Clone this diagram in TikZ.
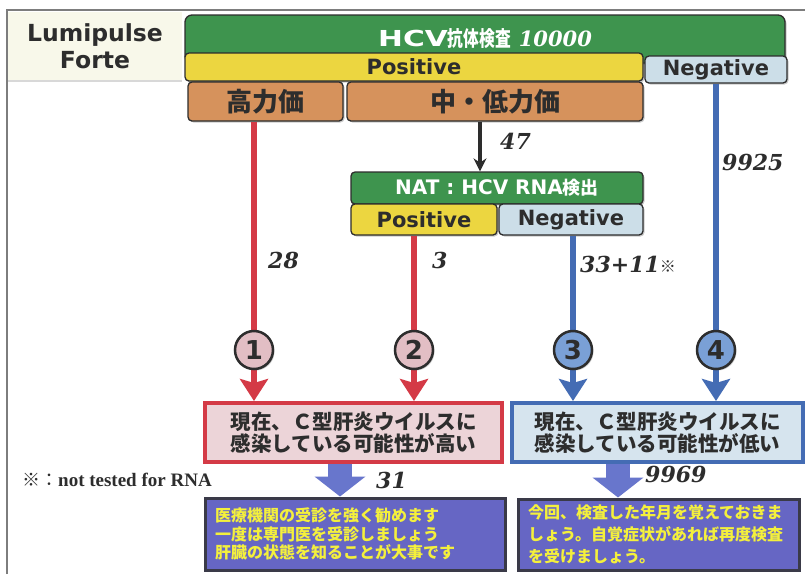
\documentclass[tikz,border=0pt]{standalone}
\usepackage{fontspec}
\setmainfont{Liberation Serif}
\newfontfamily\lat{DejaVu Sans}
\newfontfamily\jp{Noto Sans CJK JP}
\newfontfamily\jpcond{Noto Sans CJK JP}[FakeStretch=0.75]
\newfontfamily\hcvfont{DejaVu Sans}[FakeStretch=1.35]
\newfontfamily\numfont{DejaVu Serif}
\usetikzlibrary{arrows.meta,shadows}
\definecolor{hdrgreen}{RGB}{62,148,78}
\definecolor{posyellow}{RGB}{236,214,64}
\definecolor{negblue}{RGB}{204,222,232}
\definecolor{titer}{RGB}{214,146,92}
\definecolor{redline}{RGB}{212,58,70}
\definecolor{blueline}{RGB}{68,108,180}
\definecolor{pinkfill}{RGB}{236,212,216}
\definecolor{lbluefill}{RGB}{214,228,238}
\definecolor{pinkcirc}{RGB}{226,190,196}
\definecolor{bluecirc}{RGB}{122,160,214}
\definecolor{fatarrow}{RGB}{104,118,204}
\definecolor{advfill}{RGB}{102,102,196}
\definecolor{advedge}{RGB}{58,58,72}
\definecolor{advtext}{RGB}{244,240,60}
\definecolor{edge}{RGB}{45,45,45}
\definecolor{creamfill}{RGB}{248,248,234}
\definecolor{framegray}{RGB}{125,125,125}
\begin{document}
\begin{tikzpicture}[x=1pt,y=-1pt,
  softshadow/.style={drop shadow={shadow xshift=1.5pt,shadow yshift=-1.5pt,opacity=0.35,fill=black!60}},
  wh/.style 2 args={minimum width=#1pt,minimum height=#2pt},
  box/.style={draw=edge,line width=1.3pt,rounded corners=4pt,inner sep=0pt,softshadow,text=edge},
  labfont/.style={font={\fontsize{21}{23}\selectfont\lat\bfseries}},
  titfont/.style={font={\fontsize{26}{28}\selectfont\jp\bfseries}},
  verdict/.style={line width=4pt,inner sep=0pt,align=center,softshadow,text=edge,
    font={\fontsize{20.5}{22}\selectfont\jp\bfseries}},
  advice/.style={draw=advedge,line width=3pt,fill=advfill,inner xsep=10pt,inner ysep=0pt,
    align=left,text=advtext,softshadow},
  numlbl/.style={anchor=west,inner sep=0pt,text=edge,font={\fontsize{22}{24}\selectfont\numfont\bfseries\itshape}},
  numcirc/.style={circle,draw=edge,line width=2.5pt,minimum size=38pt,inner sep=0pt,softshadow,
    text=edge,font={\fontsize{26}{28}\selectfont\lat\bfseries}},
  redconn/.style={draw=redline,line width=6.5pt,-{Stealth[width=28pt,length=22pt,inset=4pt]}},
  blueconn/.style={draw=blueline,line width=6.5pt,-{Stealth[width=28pt,length=22pt,inset=4pt]}},
  blackconn/.style={draw=edge,line width=3.4pt,-{Stealth[width=13pt,length=13pt]}},
  fatconn/.style={draw=fatarrow,line width=24pt,-{Triangle[width=50pt,length=20pt]}}]
\useasboundingbox (0,0) rectangle (805,574);
\fill[white] (0,0) rectangle (805,574);
\draw[framegray,line width=1.5pt] (7,574) -- (7,10) -- (805,10);

% Lumipulse label
\node[fill=creamfill,wh={174}{68},inner sep=0pt,align=center,text=edge,
  drop shadow={shadow xshift=0pt,shadow yshift=-2pt,opacity=0.3,fill=black!50},
  font={\fontsize{23.5}{27}\selectfont\lat\bfseries}] (lumi) at (95,46) {Lumipulse\\Forte};

% top test
\node[box,fill=hdrgreen,wh={600}{48},rounded corners=7pt,text=white] (hcv) at (485,39)
  {{\fontsize{22}{24}\selectfont\hcvfont\bfseries HCV}{\fontsize{21}{24}\selectfont\jpcond\bfseries 抗体検査}\hspace{8pt}{\fontsize{21}{24}\selectfont\numfont\bfseries\itshape 10000}};
\node[box,fill=posyellow,wh={458}{28},labfont] (pos) at (414,67) {Positive};
\node[box,fill=negblue,wh={142}{27},labfont] (neg) at (716,69.5) {Negative};
\node[box,fill=titer,wh={155}{39},titfont] (hi) at (265.5,101.5) {高力価};
\node[box,fill=titer,wh={296}{39},titfont] (mid) at (495,101.5) {中・低力価};

% NAT
\node[box,fill=hdrgreen,wh={292}{32},text=white] (nat) at (497,188)
  {{\fontsize{20}{22}\selectfont\lat\bfseries NAT : HCV RNA}{\fontsize{18}{22}\selectfont\jp\bfseries 検出}};
\node[box,fill=posyellow,wh={146}{31},labfont] (npos) at (424,219.5) {Positive};
\node[box,fill=negblue,wh={144}{31},labfont] (nneg) at (571,219.5) {Negative};

% verdict boxes
\node[verdict,draw=redline,fill=pinkfill,wh={297}{59}] (hiv) at (353.5,432.5)
  {現在、Ｃ型肝炎ウイルスに\\感染している可能性が高い};
\node[verdict,draw=blueline,fill=lbluefill,wh={291}{59}] (lov) at (657.5,432.5)
  {現在、Ｃ型肝炎ウイルスに\\感染している可能性が低い};

% advice boxes
\node[advice,wh={300}{72},text width=280pt,font={\fontsize{16}{18.5}\selectfont\jp\bfseries}] (adv1) at (355,534)
  {医療機関の受診を強く勧めます\\一度は専門医を受診しましょう\\肝臓の状態を知ることが大事です};
\node[advice,wh={281}{71},text width=261pt,font={\fontsize{16}{22}\selectfont\jp\bfseries}] (adv2) at (658.5,534.5)
  {今回、検査した年月を覚えておきま\\しょう。自覚症状があれば再度検査\\を受けましょう。};

% connectors
\coordinate (k0) at (480,0);
\coordinate (k1) at (254,350);
\coordinate (k2) at (414,350);
\coordinate (k3) at (573,350);
\coordinate (k4) at (716,350);
\coordinate (f1) at (340,0);
\coordinate (f2) at (618,0);
\draw[blackconn] (mid.south -| k0) -- (nat.north -| k0);
\draw[redconn] (hi.south -| k1) -- (hiv.north -| k1);
\draw[redconn] (npos.south -| k2) -- (hiv.north -| k2);
\draw[blueconn] (nneg.south -| k3) -- (lov.north -| k3);
\draw[blueconn] (neg.south -| k4) -- (lov.north -| k4);
\draw[fatconn] (hiv.south -| f1) -- (adv1.north -| f1);
\draw[fatconn] (lov.south -| f2) -- (adv2.north -| f2);

% circles
\node[numcirc,fill=pinkcirc] (n1) at (k1) {1};
\node[numcirc,fill=pinkcirc] (n2) at (k2) {2};
\node[numcirc,fill=bluecirc] (n3) at (k3) {3};
\node[numcirc,fill=bluecirc] (n4) at (k4) {4};

% count labels
\node[numlbl] (l47) at (500,141) {47};
\node[numlbl] (l28) at (268,260) {28};
\node[numlbl] (l3) at (432,260) {3};
\node[numlbl] (l44) at (580,264) {33+11{\fontsize{16}{18}\selectfont\jp ※}};
\node[numlbl] (l9925) at (722,162) {9925};
\node[numlbl] (l31) at (376,480) {31};
\node[numlbl] (l9969) at (645,474) {9969};

% footnote
\node[anchor=west,inner sep=0pt,text=edge] (note) at (22,480)
  {{\fontsize{18}{20}\selectfont\jp ※：}{\fontsize{19}{20}\selectfont\bfseries not tested for RNA}};
\end{tikzpicture}
\end{document}
